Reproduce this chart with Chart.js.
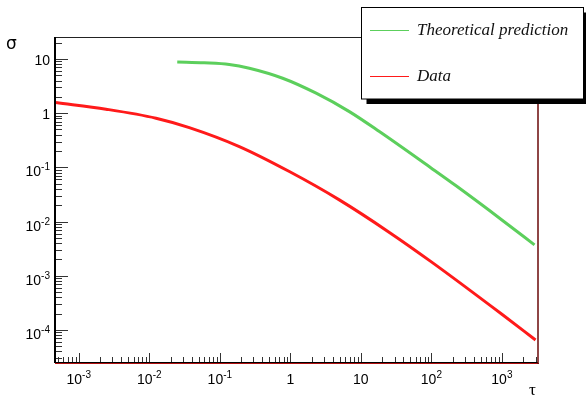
<!DOCTYPE html>
<html>
<head>
<meta charset="utf-8">
<script src="https://cdn.jsdelivr.net/npm/chart.js@4"></script>
<style>
    html, body { margin: 0; padding: 0; background: #fff; }
    canvas { display: block; }
</style>
</head>
<body>
<canvas id="chart" width="586" height="397"></canvas>
<script>
// --- DATA ---
const tauTheory = [0.0249, 0.06, 0.136, 0.262, 0.778, 2.32, 6.87, 18.3, 100, 224, 1000, 2900];
const sigmaTheory = [8.84, 8.5, 7.93, 6.76, 4.42, 2.34, 1.07, 0.458, 0.0966, 0.0456, 0.0107, 0.0037];

const tauData = [4.75e-4, 2.43e-3, 0.01245, 0.0369, 0.189, 0.968, 4.95, 25.4, 100, 1000, 3000];
const sigmaData = [1.57, 1.185, 0.809, 0.542, 0.242, 0.0837, 0.0251, 0.0063, 0.0018, 0.000194, 0.0000650];

const seriesNames = ['Theoretical prediction', 'Data'];

const xTickValues = [1e-3, 1e-2, 1e-1, 1, 10, 100, 1000];
const xTickLabels = ['10^-3', '10^-2', '10^-1', '1', '10', '10^2', '10^3'];
const yTickValues = [1e-4, 1e-3, 1e-2, 1e-1, 1, 10];
const yTickLabels = ['10^-4', '10^-3', '10^-2', '10^-1', '1', '10'];

const GREEN = '#5ccf5c';
const RED = '#ff1a1a';
const LABEL_FONT = '"Liberation Sans", Arial, sans-serif';

function toPoints(xs, ys) {
    return xs.map((x, i) => ({ x: x, y: ys[i] }));
}

// draws "10^-3" style label: base + raised exponent. align: 'center' | 'right'
function drawPowerLabel(ctx, text, x, baseY, align) {
    const parts = text.split('^');
    ctx.font = '14px ' + LABEL_FONT;
    const wBase = ctx.measureText(parts[0]).width;
    let wExp = 0;
    if (parts[1]) {
        ctx.font = '10px ' + LABEL_FONT;
        wExp = ctx.measureText(parts[1]).width;
    }
    const total = wBase + wExp;
    const left = align === 'center' ? x - total / 2 : x - total;
    ctx.textAlign = 'left';
    ctx.textBaseline = 'alphabetic';
    ctx.font = '14px ' + LABEL_FONT;
    ctx.fillText(parts[0], left, baseY);
    if (parts[1]) {
        ctx.font = '10px ' + LABEL_FONT;
        ctx.fillText(parts[1], left + wBase, baseY - 6);
    }
}

// inside ticks, labels, frame, axis titles and the boxed legend (ROOT style)
const rootFrame = {
    id: 'rootFrame',
    afterDatasetsDraw(chart) {
        const ctx = chart.ctx;
        const a = chart.chartArea;
        const xs = chart.scales.x, ys = chart.scales.y;
        ctx.save();

        // x ticks (pointing up)
        ctx.strokeStyle = '#333';
        ctx.lineWidth = 1;
        for (let d = -4; d <= 3; d++) {
            for (let m = 1; m <= 9; m++) {
                const v = m * Math.pow(10, d);
                if (v < xs.min || v > xs.max) continue;
                const px = Math.round(xs.getPixelForValue(v)) + 0.5;
                const len = m === 1 ? 9 : 5;
                ctx.beginPath();
                ctx.moveTo(px, a.bottom);
                ctx.lineTo(px, a.bottom - len);
                ctx.stroke();
            }
        }
        // y ticks (pointing right)
        for (let d = -5; d <= 1; d++) {
            for (let m = 1; m <= 9; m++) {
                const v = m * Math.pow(10, d);
                if (v < ys.min || v > ys.max) continue;
                const py = Math.round(ys.getPixelForValue(v)) + 0.5;
                const len = m === 1 ? 13 : 7;
                ctx.beginPath();
                ctx.moveTo(a.left, py);
                ctx.lineTo(a.left + len, py);
                ctx.stroke();
            }
        }

        // tick labels
        ctx.fillStyle = '#000';
        xTickValues.forEach((v, i) => {
            drawPowerLabel(ctx, xTickLabels[i], xs.getPixelForValue(v), a.bottom + 21.5, 'center');
        });
        yTickValues.forEach((v, i) => {
            const py = ys.getPixelForValue(v);
            const hasExp = yTickLabels[i].indexOf('^') >= 0;
            drawPowerLabel(ctx, yTickLabels[i], 50, py + (hasExp ? 9 : 5.5), 'right');
        });

        // frame
        ctx.strokeStyle = '#222';
        ctx.lineWidth = 1;
        ctx.beginPath();
        ctx.moveTo(a.left, a.top + 0.5);
        ctx.lineTo(a.right, a.top + 0.5);
        ctx.stroke();
        ctx.strokeStyle = '#000';
        ctx.lineWidth = 2;
        ctx.beginPath();
        ctx.moveTo(a.left, a.top);
        ctx.lineTo(a.left, a.bottom + 1);
        ctx.stroke();
        ctx.lineWidth = 1;
        ctx.beginPath();
        ctx.moveTo(a.left, a.bottom + 0.5);
        ctx.lineTo(a.right, a.bottom + 0.5);
        ctx.stroke();
        ctx.strokeStyle = '#b01010';
        ctx.beginPath();
        ctx.moveTo(a.left, a.bottom + 1.5);
        ctx.lineTo(a.right + 1, a.bottom + 1.5);
        ctx.stroke();
        ctx.strokeStyle = '#6a0808';
        ctx.lineWidth = 1.5;
        ctx.beginPath();
        ctx.moveTo(a.right, a.top);
        ctx.lineTo(a.right, a.bottom + 2);
        ctx.stroke();

        // axis titles
        ctx.fillStyle = '#000';
        ctx.font = '17px "DejaVu Sans"';
        ctx.textAlign = 'left';
        ctx.textBaseline = 'alphabetic';
        ctx.fillText('\u03C3', 6, 49);
        ctx.font = '17px "Liberation Serif"';
        ctx.fillText('\u03C4', 529, 395);

        // legend box with shadow
        const lx = 361.5, ly = 7.5, lw = 222, lh = 91.5;
        ctx.fillStyle = '#000';
        ctx.fillRect(lx + 5, ly + 5, lw, lh);
        ctx.fillStyle = '#fff';
        ctx.fillRect(lx, ly, lw, lh);
        ctx.strokeStyle = '#000';
        ctx.lineWidth = 1;
        ctx.strokeRect(lx, ly, lw, lh);

        const rows = [
            { name: seriesNames[0], color: GREEN, y: 30.5 },
            { name: seriesNames[1], color: RED, y: 76.5 }
        ];
        ctx.font = 'italic 17px "Liberation Serif"';
        ctx.textBaseline = 'middle';
        rows.forEach(r => {
            ctx.strokeStyle = r.color;
            ctx.lineWidth = 1;
            ctx.beginPath();
            ctx.moveTo(370, r.y);
            ctx.lineTo(409, r.y);
            ctx.stroke();
            ctx.fillStyle = '#111';
            ctx.fillText(r.name, 417, r.y);
        });

        ctx.restore();
    }
};

new Chart(document.getElementById('chart'), {
    type: 'scatter',
    data: {
        datasets: [
            {
                label: seriesNames[0],
                data: toPoints(tauTheory, sigmaTheory),
                showLine: true,
                borderColor: GREEN,
                borderWidth: 3,
                pointRadius: 0,
                cubicInterpolationMode: 'monotone'
            },
            {
                label: seriesNames[1],
                data: toPoints(tauData, sigmaData),
                showLine: true,
                borderColor: RED,
                borderWidth: 3,
                pointRadius: 0,
                cubicInterpolationMode: 'monotone'
            }
        ]
    },
    options: {
        responsive: false,
        animation: false,
        layout: { padding: { top: 37, right: 48, left: 0, bottom: 0 } },
        plugins: {
            legend: { display: false },
            tooltip: { enabled: false }
        },
        scales: {
            x: {
                type: 'logarithmic',
                min: 4.6e-4,
                max: 3250,
                grid: { display: false, drawTicks: false },
                border: { display: false },
                afterBuildTicks: s => { s.ticks = xTickValues.map(v => ({ value: v })); },
                afterFit: s => { s.height = 35; },
                ticks: { display: false }
            },
            y: {
                type: 'logarithmic',
                min: 2.55e-5,
                max: 25.5,
                grid: { display: false, drawTicks: false },
                border: { display: false },
                afterBuildTicks: s => { s.ticks = yTickValues.map(v => ({ value: v })); },
                afterFit: s => { s.width = 55; },
                ticks: { display: false }
            }
        }
    },
    plugins: [rootFrame]
});
</script>
</body>
</html>
